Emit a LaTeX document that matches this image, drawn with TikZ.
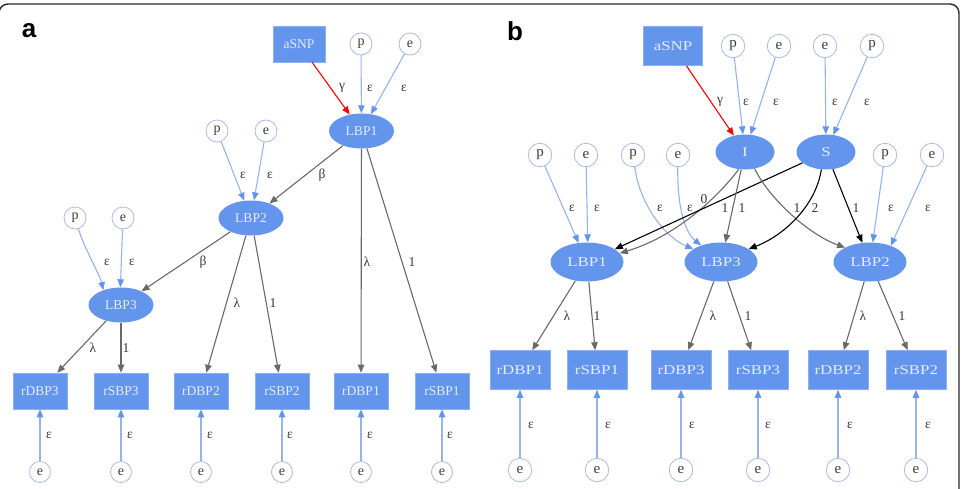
\documentclass[tikz,border=0pt]{standalone}
\usepackage{fontspec}
\setmainfont{Liberation Serif}
\newfontfamily\panelfont{Liberation Sans}
\newfontfamily\widefont[FakeStretch=1.25]{Liberation Serif}
\usetikzlibrary{arrows.meta,shapes.geometric}
\definecolor{nodefill}{RGB}{100,149,237}
\definecolor{nodetext}{RGB}{228,236,252}
\definecolor{boxline}{RGB}{140,175,240}
\definecolor{circline}{RGB}{170,188,226}
\definecolor{circtext}{RGB}{60,60,60}
\definecolor{blueline}{RGB}{150,180,234}
\definecolor{grayline}{RGB}{105,105,105}
\definecolor{labtext}{RGB}{55,55,55}
\definecolor{framecol}{RGB}{40,40,40}
\tikzset{
  lat/.style={ellipse, fill=nodefill, text=nodetext, inner sep=0pt},
  lata/.style={lat, minimum width=65pt, minimum height=35pt, font=\fontsize{13.5}{13.5}\selectfont},
  latb/.style={lat, minimum width=73pt, minimum height=39pt, font=\widefont\fontsize{13.5}{13.5}\selectfont},
  latc/.style={lat, minimum width=59pt, minimum height=35pt, font=\widefont\fontsize{13.5}{13.5}\selectfont},
  obs/.style={rectangle, fill=nodefill, draw=boxline, line width=0.6pt, text=nodetext, inner sep=0pt},
  obsa/.style={obs, minimum width=54pt, minimum height=36pt, font=\fontsize{13.5}{13.5}\selectfont},
  obsb/.style={obs, minimum width=60pt, minimum height=39pt, font=\widefont\fontsize{13.5}{13.5}\selectfont},
  snpa/.style={obs, minimum width=52pt, minimum height=36pt, font=\fontsize{13.5}{13.5}\selectfont},
  snpb/.style={obs, minimum width=59pt, minimum height=39pt, font=\widefont\fontsize{13.5}{13.5}\selectfont},
  erra/.style={circle, draw=circline, fill=white, line width=0.8pt, text=circtext, minimum size=22pt, inner sep=0pt, font=\fontsize{14}{14}\selectfont},
  errb/.style={erra, minimum size=23.5pt, font=\fontsize{15}{15}\selectfont},
  bl/.style={draw=blueline, line width=1.1pt, -{Triangle[length=8pt,width=6.5pt,color=nodefill]}},
  gr/.style={draw=grayline, line width=1.1pt, -{Triangle[length=8pt,width=6.5pt]}},
  bk/.style={draw=black, line width=1.1pt, -{Triangle[length=8pt,width=6.5pt]}},
  rd/.style={draw=red, line width=1.1pt, -{Triangle[length=8pt,width=6.5pt]}},
  lbl/.style={text=labtext, inner sep=0pt, font=\fontsize{13.5}{13.5}\selectfont},
  plabel/.style={inner sep=0pt, font=\panelfont\bfseries\fontsize{26}{26}\selectfont}
}
\begin{document}
\begin{tikzpicture}[x=1pt,y=-1pt]
\useasboundingbox (0,0) rectangle (967,488);
\begin{scope}
\clip (0,0) rectangle (967,488);
\draw[framecol, line width=1.4pt, rounded corners=9pt] (-1,4) rectangle (959,520);
\end{scope}
\node[plabel] (pa) at (29,31) {a};
\node[plabel] (pb) at (515,31) {b};

% ---------------- panel a ----------------
\node[snpa] (snpA) at (299,44) {aSNP};
\node[erra] (pA1) at (361,44) {p};
\node[erra] (eA1) at (410,44) {e};
\node[lata] (L1A) at (361.5,131) {LBP1};
\node[erra] (pA2) at (217,131) {p};
\node[erra] (eA2) at (266,131) {e};
\node[lata] (L2A) at (251,218) {LBP2};
\node[erra] (pA3) at (75,218) {p};
\node[erra] (eA3) at (123,218) {e};
\node[lata] (L3A) at (121,305) {LBP3};

\node[obsa] (rD3A) at (40,391) {rDBP3};
\node[obsa] (rS3A) at (121,391) {rSBP3};
\node[obsa] (rD2A) at (201,391) {rDBP2};
\node[obsa] (rS2A) at (282,391) {rSBP2};
\node[obsa] (rD1A) at (361,391) {rDBP1};
\node[obsa] (rS1A) at (442,391) {rSBP1};

\foreach \n/\x in {1/40,2/121,3/201,4/282,5/361,6/442}
  \node[erra, minimum size=21pt] (eBA\n) at (\x,472) {e};

\draw[rd] (snpA) -- (L1A);
\draw[bl] (pA1) -- (L1A);
\draw[bl] (eA1) -- (L1A);
\draw[bl] (pA2) -- (L2A);
\draw[bl] (eA2) -- (L2A);
\draw[bl] (pA3) .. controls (85,250) and (100,275) .. (L3A.140);
\draw[bl] (eA3) -- (L3A.92);
\draw[gr] (L1A) -- (L2A);
\draw[gr] (L2A) -- (L3A);
\draw[gr] (L1A) -- (rD1A);
\draw[gr] (L1A) -- (rS1A);
\draw[gr] (L2A) -- (rD2A);
\draw[gr] (L2A) -- (rS2A);
\draw[gr] (L3A) -- (rD3A);
\draw[gr] (L3A) -- (rS3A);
\draw[bl] (eBA1) -- (rD3A);
\draw[bl] (eBA2) -- (rS3A);
\draw[bl] (eBA3) -- (rD2A);
\draw[bl] (eBA4) -- (rS2A);
\draw[bl] (eBA5) -- (rD1A);
\draw[bl] (eBA6) -- (rS1A);

\node[lbl] (la1) at (342,88) {γ};
\node[lbl] (la2) at (370,88) {ε};
\node[lbl] (la3) at (404,88) {ε};
\node[lbl] (la4) at (243,175) {ε};
\node[lbl] (la5) at (270,175) {ε};
\node[lbl] (la6) at (322,175) {β};
\node[lbl] (la7) at (107,262) {ε};
\node[lbl] (la8) at (132,262) {ε};
\node[lbl] (la9) at (203,262) {β};
\node[lbl] (la10) at (367,262) {λ};
\node[lbl] (la11) at (412,262) {1};
\node[lbl] (la12) at (237,303) {λ};
\node[lbl] (la13) at (273,303) {1};
\node[lbl] (la14) at (93,348) {λ};
\node[lbl] (la15) at (126,348) {1};
\foreach \n/\x in {1/49,2/130,3/210,4/290,5/370,6/450}
  \node[lbl] (lea\n) at (\x,435) {ε};

% ---------------- panel b ----------------
\node[snpb] (snpB) at (673,46) {aSNP};
\node[errb] (pB1) at (733,46) {p};
\node[errb] (eB1) at (779,46) {e};
\node[errb] (eB2) at (825,46) {e};
\node[errb] (pB2) at (872,46) {p};
\node[latc] (IB) at (745,152) {I};
\node[latc] (SB) at (826,152) {S};
\node[errb] (pB3) at (540,155) {p};
\node[errb] (eB3) at (586,155) {e};
\node[errb] (pB4) at (633,155) {p};
\node[errb] (eB4) at (678,155) {e};
\node[errb] (pB5) at (885,155) {p};
\node[errb] (eB5) at (932,155) {e};
\node[latb] (L1B) at (587,262) {LBP1};
\node[latb] (L3B) at (721,262) {LBP3};
\node[latb] (L2B) at (870,262) {LBP2};

\node[obsb] (rD1B) at (520,370) {rDBP1};
\node[obsb] (rS1B) at (597,370) {rSBP1};
\node[obsb] (rD3B) at (681,370) {rDBP3};
\node[obsb] (rS3B) at (758,370) {rSBP3};
\node[obsb] (rD2B) at (838,370) {rDBP2};
\node[obsb] (rS2B) at (916,370) {rSBP2};
\foreach \n/\x in {1/520,2/597,3/681,4/758,5/838,6/916}
  \node[errb] (eBB\n) at (\x,470) {e};

\draw[rd] (snpB) -- (IB);
\draw[bl] (pB1) -- (IB);
\draw[bl] (eB1) -- (IB);
\draw[bl] (eB2) -- (SB);
\draw[bl] (pB2) -- (SB);
\draw[bl] (pB3) -- (L1B);
\draw[bl] (eB3) -- (L1B.88);
\draw[bl] (pB4) .. controls (640,205) and (665,237) .. (L3B.155);
\draw[bl] (eB4) .. controls (677,215) and (688,235) .. (L3B.140);
\draw[bl] (pB5) -- (L2B);
\draw[bl] (eB5) -- (L2B.38);

\draw[gr] (IB.250) .. controls (722,192) and (680,235) .. (L1B.15);
\draw[bk] (SB) -- (L1B);
\draw[gr] (IB) -- (L3B);
\draw[gr] (IB.300) .. controls (770,200) and (810,235) .. (L2B.150);
\draw[bk] (SB.255) .. controls (816,205) and (785,235) .. (L3B.25);
\draw[bk] (SB) -- (L2B);

\draw[gr] (L1B) -- (rD1B);
\draw[gr] (L1B) -- (rS1B);
\draw[gr] (L3B) -- (rD3B);
\draw[gr] (L3B) -- (rS3B);
\draw[gr] (L2B) -- (rD2B);
\draw[gr] (L2B) -- (rS2B);
\draw[bl] (eBB1) -- (rD1B);
\draw[bl] (eBB2) -- (rS1B);
\draw[bl] (eBB3) -- (rD3B);
\draw[bl] (eBB4) -- (rS3B);
\draw[bl] (eBB5) -- (rD2B);
\draw[bl] (eBB6) -- (rS2B);

\node[lbl] (lb1) at (720,102) {γ};
\node[lbl] (lb2) at (746,102) {ε};
\node[lbl] (lb3) at (776,102) {ε};
\node[lbl] (lb4) at (835,102) {ε};
\node[lbl] (lb5) at (867,102) {ε};
\node[lbl] (lb6) at (572,208) {ε};
\node[lbl] (lb7) at (597,208) {ε};
\node[lbl] (lb8) at (704,199) {0};
\node[lbl] (lb9) at (660,208) {ε};
\node[lbl] (lb10) at (690,208) {ε};
\node[lbl] (lb11) at (725,208) {1};
\node[lbl] (lb12) at (742,208) {1};
\node[lbl] (lb13) at (797,208) {1};
\node[lbl] (lb14) at (815,208) {2};
\node[lbl] (lb15) at (856,208) {1};
\node[lbl] (lb16) at (891,208) {ε};
\node[lbl] (lb17) at (928,208) {ε};
\node[lbl] (lb18) at (567,316) {λ};
\node[lbl] (lb19) at (597,316) {1};
\node[lbl] (lb20) at (713,316) {λ};
\node[lbl] (lb21) at (748,316) {1};
\node[lbl] (lb22) at (863,316) {λ};
\node[lbl] (lb23) at (902,316) {1};
\foreach \n/\x in {1/531,2/608,3/692,4/768,5/850,6/928}
  \node[lbl] (leb\n) at (\x,425) {ε};
\end{tikzpicture}
\end{document}
